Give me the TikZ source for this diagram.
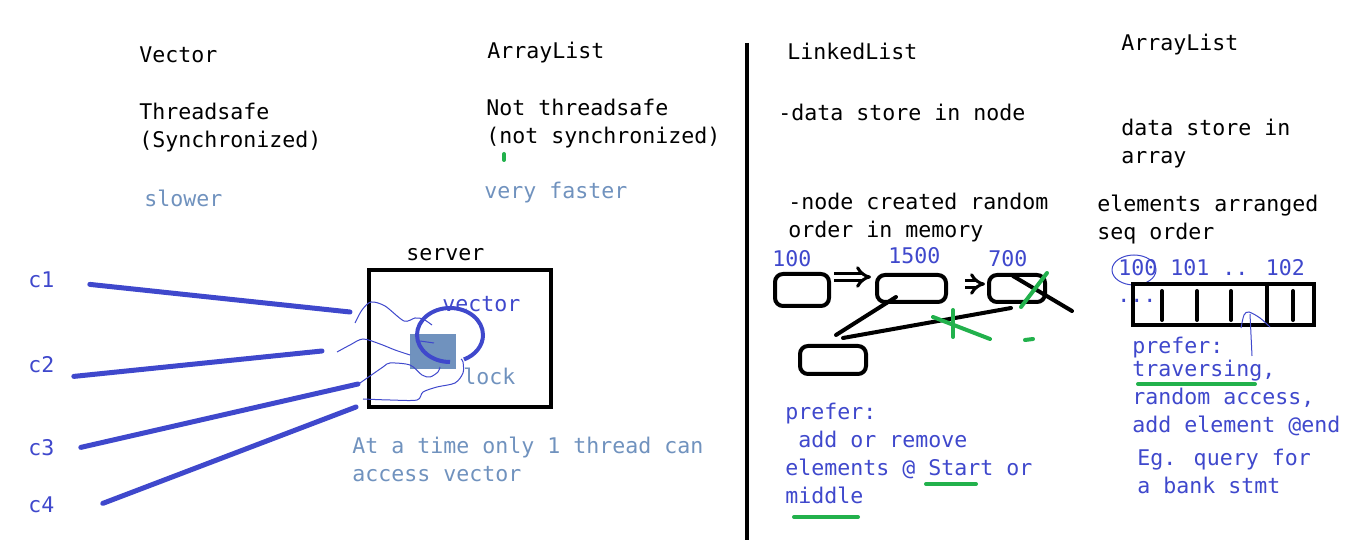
\documentclass[tikz,border=0pt]{standalone}
\usepackage{fontspec}
\usepackage{xcolor}
\usetikzlibrary{arrows.meta}
\newfontfamily\consfont{DejaVu Sans Mono}
\definecolor{ink}{HTML}{3F48CC}
\definecolor{slate}{HTML}{7092BE}
\definecolor{marker}{HTML}{22B14C}

\begin{document}
\begin{tikzpicture}[x=0.5pt,y=-0.5pt,
  txt/.style={anchor=north west,inner sep=0pt,align=left,font=\consfont\fontsize{10.8}{14}\selectfont,execute at begin node=\strut},
  inktxt/.style={txt,text=ink},
  slatetxt/.style={txt,text=slate},
  cline/.style={ink,line width=2.5pt,line cap=round},
  scribble/.style={ink,line width=0.5pt},
  llbox/.style={draw,line width=2pt,rounded corners=4pt,inner sep=0pt},
  pen/.style={line width=2pt,line cap=round},
  hl/.style={marker,line width=2pt,line cap=round},
  dblarr/.style={double,double distance=2pt,line width=1.5pt,-{Implies}}]
\useasboundingbox (0,0) rectangle (1349,544);

% Vector vs ArrayList
\node[txt] (vecT) at (139,42.4) {Vector};
\node[txt] (alT) at (487,38.4) {ArrayList};
\node[txt] (vecS) at (139,102.4) {Threadsafe\\(Synchronized)};
\node[txt] (alS) at (486,98.9) {Not threadsafe\\(not synchronized)};
\draw[hl] (504,154) -- (504,160);
\node[slatetxt] (slow) at (144,186.4) {slower};
\node[slatetxt] (fast) at (484,178.4) {very faster};

% server with the locked vector
\node[txt] (srvT) at (406,240.4) {server};
\node[draw,line width=2pt,minimum width=91pt,minimum height=68.5pt,inner sep=0pt] (server) at (460,338.5) {};
\node[fill=slate,minimum width=23pt,minimum height=17.5pt,inner sep=0pt] (lockbox) at (433,351.5) {};
\draw[ink,line width=2pt] (450,362) arc[start angle=90,end angle=425,x radius=33,y radius=27];
\node[inktxt] (vecin) at (442,291.4) {vector};
\node[slatetxt] (lockT) at (463,364.4) {lock};
\node[slatetxt] (note) at (352,436.4) {At a time only 1 thread can\\access vector};

% clients
\foreach \n/\y in {1/267.4,2/352.4,3/435.4,4/492.4}
  \node[inktxt] (c\n) at (28,\y) {c\n};
\coordinate (s1) at (350,312);
\coordinate (s2) at (322,351);
\coordinate (s3) at (358,384);
\coordinate (s4) at (356,407);
\draw[cline] (c1.east) ++(35,2.6) -- (s1);
\draw[cline] (c2.east) ++(19,9.6) -- (s2);
\draw[cline] (c3.east) ++(26,-2.4) -- (s3);
\draw[cline] (c4.east) ++(48,-3.4) -- (s4);
\draw[scribble] plot[smooth] coordinates {(355,323) (362,310) (371,302) (385,306) (404,321) (415,318) (423,319) (432,325)};
\draw[scribble] plot[smooth] coordinates {(337,352) (350,345) (363,339) (380,344) (395,350) (410,355)};
\draw[scribble] (420,341) -- (434,343);
\draw[scribble] plot[smooth] coordinates {(360,383) (383,367) (390,363) (410,365) (422,375) (430,377) (438,372) (440,367)};
\draw[scribble] plot[smooth] coordinates {(363,399) (390,400) (417,400) (423,392) (437,387) (455,383) (463,373) (463,362) (461,359)};

% divider
\draw[line width=2pt] (747,43) -- (747,540);

% LinkedList
\node[txt] (llT) at (787,39.4) {LinkedList};
\node[txt] (llA) at (778,100.4) {-data store in node};
\node[txt] (llB) at (788,192.4) {-node created random\\order in memory};
\node[inktxt] (l100) at (772,246.4) {100};
\node[inktxt] (l1500) at (888,243.4) {1500};
\node[inktxt] (l700) at (988,246.9) {700};
\node[llbox,minimum width=27pt,minimum height=16pt] (n100) at (802,290) {};
\node[llbox,minimum width=34.5pt,minimum height=13.5pt] (n1500) at (911.5,288.5) {};
\node[llbox,minimum width=28pt,minimum height=13.5pt] (n700) at (1017,288.5) {};
\node[llbox,minimum width=33pt,minimum height=14pt] (nnew) at (833,360) {};
\draw[dblarr,shorten <=1.5pt,shorten >=2pt] ([yshift=6.5pt]n100.east) -- ([yshift=5.75pt]n1500.west);
\draw[dblarr,shorten <=8.5pt,shorten >=1pt] ([yshift=2.25pt]n1500.east) -- ([yshift=2.25pt]n700.west);
\draw[pen] ([shift={(-15.5,8.5)}]n1500.center) -- ([shift={(3,-25)}]nnew.center);
\draw[pen] ([shift={(10,-22)}]nnew.center) -- ([shift={(-6,19.5)}]n700.center);
\coordinate (tail) at (1072,311);
\draw[pen] ([shift={(-4,-12.5)}]n700.center) -- (tail);
\draw[hl] (933,317) -- (990,339);
\draw[hl] (953,310) -- (953,337);
\draw[hl] (1047,273) -- (1021,307);
\draw[hl] (1025,340) -- (1033,339);
\node[inktxt] (llP) at (785,402.9) {prefer:\\\hphantom{a}add or remove\\elements @ Start or\\middle};
\draw[hl] (926,484) -- (976,484);
\draw[hl] (794,517) -- (858,517);

% ArrayList
\node[txt] (arT) at (1121,30.4) {ArrayList};
\node[txt] (arA) at (1121,118.4) {data store in\\array};
\node[txt] (arB) at (1097,194.4) {elements arranged\\seq order};
\node[inktxt] (arN) at (1118,255.4) {100 101 .. 102};
\draw[scribble] (1134,270) ellipse[x radius=22,y radius=15];
\node[inktxt] (arD) at (1117,282.4) {...};
\node[draw,line width=2pt,minimum width=90.5pt,minimum height=20.5pt,inner sep=0pt] (arr) at (1223.5,304.5) {};
\foreach \x in {1162,1197,1231,1293}
  \draw[pen] (\x,291) -- (\x,320);
\draw[line width=2pt] (1267,282) -- (1267,327);
\draw[scribble] plot[smooth] coordinates {(1241,328) (1244,315) (1249,312) (1260,318) (1270,327)};
\draw[scribble] (1250,314) -- (1252,356);
\node[inktxt] (arP) at (1132,333.4) {prefer:};
\node[inktxt] (arQ) at (1132,359.9) {traversing,\\random access,\\add element @end};
\draw[hl] (1138,384) -- (1255,384);
\node[inktxt] (arE) at (1137,448.4) {Eg. query for\\a bank stmt};
\end{tikzpicture}
\end{document}
